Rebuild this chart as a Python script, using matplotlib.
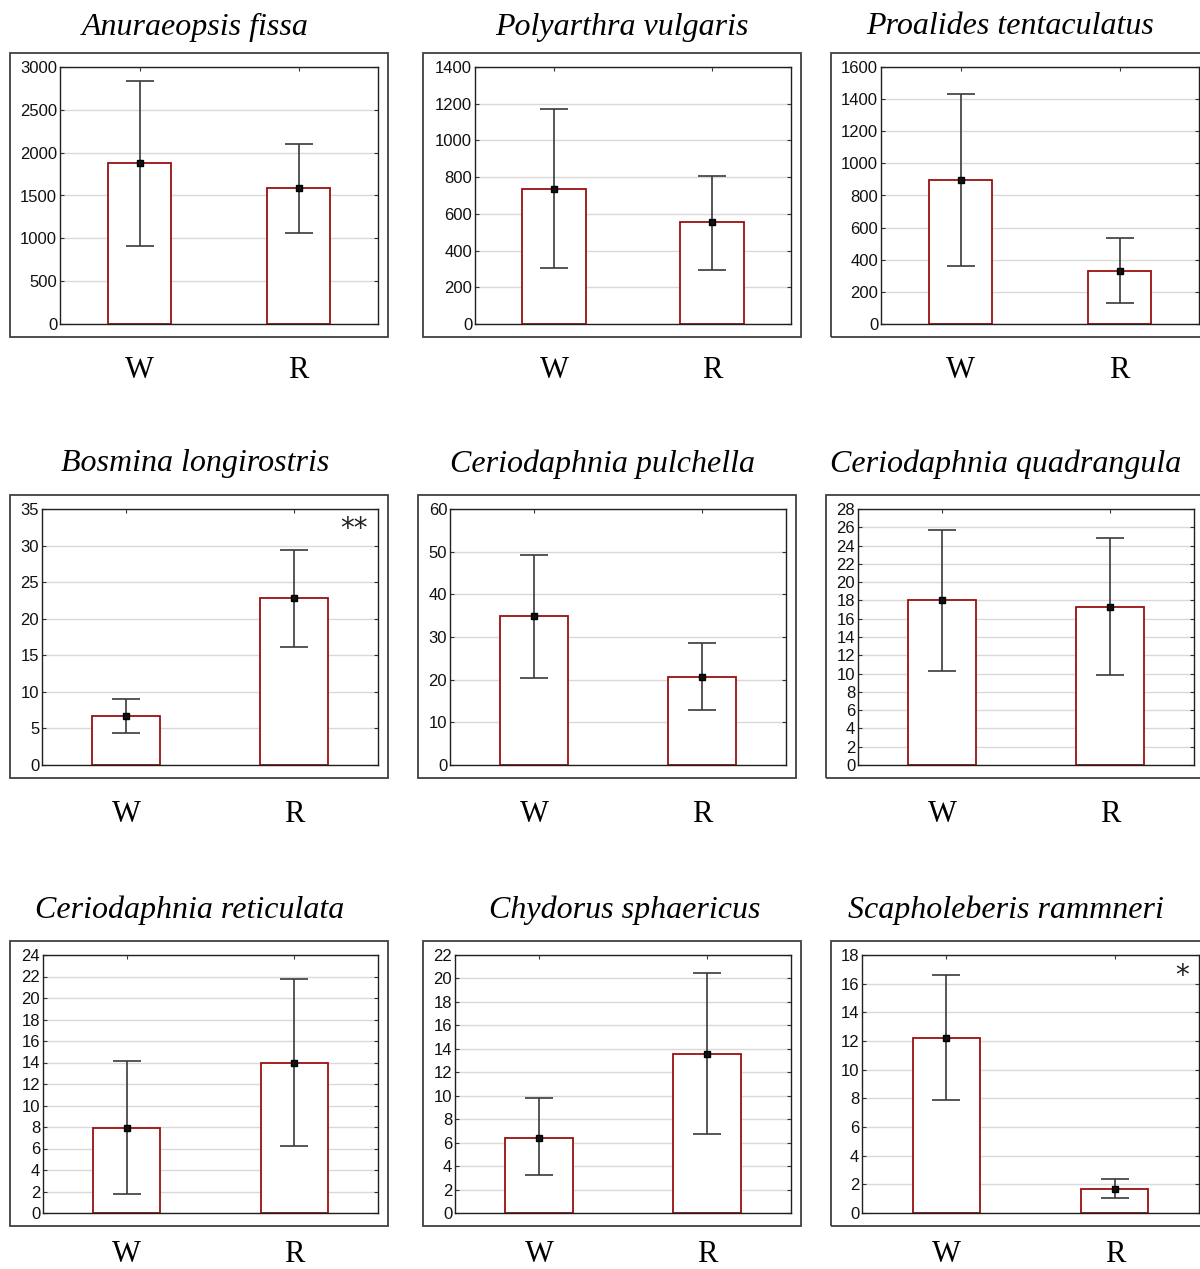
import matplotlib
matplotlib.use("Agg")
import matplotlib.pyplot as plt
import matplotlib.transforms as mtransforms
from matplotlib.patches import Rectangle
import numpy as np

# species (panel titles)
titles = ["Anuraeopsis fissa", "Polyarthra vulgaris", "Proalides tentaculatus",
          "Bosmina longirostris", "Ceriodaphnia pulchella", "Ceriodaphnia quadrangula",
          "Ceriodaphnia reticulata", "Chydorus sphaericus", "Scapholeberis rammneri"]
groups = ["W", "R"]

# means and error bar limits
w_mean = [1875, 735, 898, 6.65, 35.0, 18.0, 7.9, 6.4, 12.2]
w_low = [910, 305, 360, 4.4, 20.5, 10.3, 1.8, 3.2, 7.9]
w_high = [2835, 1170, 1435, 9.0, 49.2, 25.7, 14.1, 9.8, 16.6]
r_mean = [1590, 556, 332, 22.8, 20.7, 17.3, 14.0, 13.6, 1.7]
r_low = [1066, 295, 130, 16.2, 12.9, 9.8, 6.2, 6.7, 1.05]
r_high = [2097, 808, 537, 29.4, 28.6, 24.8, 21.8, 20.5, 2.35]

# y axis ranges
y_max = [3000, 1400, 1600, 35, 60, 28, 24, 22, 18]
y_step = [500, 200, 200, 5, 10, 2, 2, 2, 2]

# significance marks
stars = ["", "", "", "**", "", "", "", "", "*"]

W, H = 1200, 1269
fig = plt.figure(figsize=(W / 100, H / 100), dpi=100)

# pixel layout: frame (x0, y0, x1, y1), axes (x0, y0, x1, y1), title xy, label y
frames = [(10, 53, 388, 337), (423, 53, 801, 337), (831, 53, 1215, 337),
          (10, 495, 388, 778), (418, 495, 796, 778), (826, 495, 1210, 778),
          (10, 941, 388, 1226), (423, 941, 801, 1226), (831, 941, 1215, 1226)]
axboxes = [(60, 67, 378, 324), (475, 67, 791, 324), (881, 67, 1199, 324),
           (42, 509, 378, 765), (450, 509, 786, 765), (858, 509, 1194, 765),
           (43, 955, 378, 1213), (455, 955, 791, 1213), (862, 955, 1199, 1213)]
title_xy = [(195, 27), (622, 27), (1010, 27),
            (195, 464), (602, 464), (1006, 464),
            (190, 910), (625, 910), (1006, 910)]
label_y = [370, 370, 370, 814, 814, 814, 1254, 1254, 1254]

title_font = {"family": "Liberation Serif", "style": "italic", "size": 23}
label_font = {"family": "Liberation Serif", "size": 22}

for i in range(9):
    fx0, fy0, fx1, fy1 = frames[i]
    fig.patches.append(Rectangle((fx0 / W, 1 - fy1 / H), (fx1 - fx0) / W, (fy1 - fy0) / H,
                                 transform=fig.transFigure, fill=False,
                                 edgecolor="#404040", linewidth=1.3, zorder=0))
    x0, y0, x1, y1 = axboxes[i]
    ax = fig.add_axes([x0 / W, 1 - y1 / H, (x1 - x0) / W, (y1 - y0) / H])
    ax.patch.set_alpha(0)

    pos = np.arange(2)
    means = [w_mean[i], r_mean[i]]
    lows = [w_low[i], r_low[i]]
    highs = [w_high[i], r_high[i]]
    yerr = [[m - l for m, l in zip(means, lows)], [h - m for m, h in zip(means, highs)]]

    ax.bar(pos, means, width=0.4, color="white", edgecolor="#9b1010", linewidth=1.3, zorder=2)
    ax.errorbar(pos, means, yerr=yerr, fmt="s", color="#2a2a2a", ecolor="#3a3a3a",
                elinewidth=1.2, capsize=10, capthick=1.2, ms=4.5, mfc="#111111",
                mec="black", zorder=3)

    ax.set_xlim(-0.5, 1.5)
    ax.set_ylim(0, y_max[i])
    ax.set_yticks(np.arange(0, y_max[i] + y_step[i] / 2, y_step[i]))
    ax.set_xticks(pos)
    ax.set_xticklabels([])
    ax.yaxis.grid(True, color="#d9d9d9", linewidth=1.0, zorder=0)
    ax.set_axisbelow(True)
    ax.tick_params(axis="both", direction="in", length=3, width=0.8, color="#333333",
                   top=True, right=True, labelsize=12, pad=2, labelcolor="#111111")
    for lab in ax.get_yticklabels():
        lab.set_family("Liberation Sans")
    for sp in ax.spines.values():
        sp.set_linewidth(1.0)
        sp.set_color("#202020")

    tx, ty = title_xy[i]
    fig.text(tx / W, 1 - ty / H, titles[i], ha="center", va="center", fontdict=title_font)

    trans = mtransforms.blended_transform_factory(ax.transData, fig.transFigure)
    for p, g in zip(pos, groups):
        ax.text(p, 1 - label_y[i] / H, g, transform=trans, ha="center", va="center",
                fontdict=label_font, clip_on=False)

    if stars[i]:
        ax.text(0.97, 0.92, stars[i], transform=ax.transAxes, ha="right", va="center",
                fontsize=20, family="DejaVu Sans", color="#222222")

fig.savefig("out.png", dpi=100)
